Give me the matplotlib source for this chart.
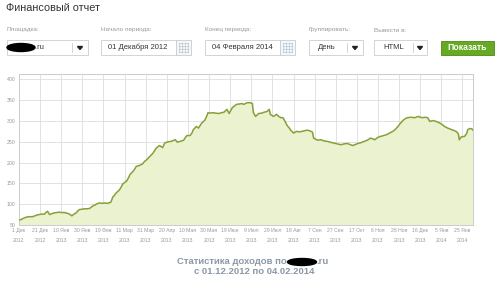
import numpy as np
import matplotlib
matplotlib.use('Agg')
import matplotlib.pyplot as plt
from matplotlib.patches import Rectangle, Ellipse, Polygon
import pandas as pd

plt.rcParams['font.family'] = ['Liberation Sans', 'DejaVu Sans']

# income per day (days counted from 1 Dec 2012)
days = [0, 2, 4, 7, 10, 13, 15, 17, 19, 21, 24, 25, 27, 29, 31, 33, 36, 38, 40, 43,
        46, 48, 50, 52, 54, 57, 60, 62, 65, 67, 70, 72, 73, 76, 79, 81, 84, 87, 89, 90,
        92, 95, 97, 98, 100, 102, 104, 105, 108, 110, 111, 114, 117, 119, 121, 124, 126, 127, 130, 133,
        135, 136, 138, 141, 144, 146, 148, 150, 151, 154, 156, 158, 159, 162, 164, 165, 168, 170, 173, 176,
        178, 179, 181, 183, 186, 189, 192, 194, 197, 199, 202, 204, 206, 209, 211, 213, 216, 219, 221, 222,
        224, 227, 230, 232, 235, 237, 238, 241, 244, 246, 248, 250, 252, 254, 256, 257, 260, 263, 266, 268,
        271, 273, 276, 278, 279, 281, 283, 286, 289, 292, 295, 298, 300, 303, 305, 308, 311, 314, 316, 318,
        321, 324, 327, 330, 333, 335, 337, 339, 341, 344, 348, 351, 354, 356, 359, 361, 364, 366, 368, 371,
        375, 378, 380, 382, 385, 387, 389, 392, 395, 397, 400, 403, 406, 410, 412, 414, 416, 417, 419, 422,
        424, 425, 427, 429, 430]
income = [62, 63, 66, 69, 70, 70, 72, 74, 75, 76, 76, 79, 83, 75, 77, 79, 80, 81, 80, 80,
          78, 76, 72, 76, 79, 87, 88, 89, 89, 90, 96, 98, 100, 103, 102, 103, 102, 105, 118, 120,
          127, 134, 142, 148, 152, 156, 165, 171, 179, 186, 191, 193, 197, 203, 207, 215, 220, 223, 235, 241,
          238, 236, 247, 250, 251, 253, 255, 249, 250, 252, 254, 262, 265, 265, 272, 279, 287, 283, 295, 302,
          313, 320, 319, 320, 319, 318, 320, 321, 328, 318, 332, 336, 340, 341, 342, 340, 344, 344, 342, 320,
          311, 318, 319, 321, 323, 328, 316, 311, 316, 311, 308, 308, 299, 289, 283, 279, 271, 275, 274, 275,
          277, 278, 276, 273, 259, 256, 254, 255, 252, 251, 249, 247, 246, 244, 243, 245, 246, 243, 241, 243,
          246, 248, 251, 254, 259, 257, 255, 259, 262, 264, 267, 271, 275, 279, 287, 294, 302, 306, 308, 309,
          308, 311, 309, 308, 309, 308, 299, 301, 299, 297, 293, 287, 283, 279, 277, 275, 270, 255, 262, 263,
          270, 279, 282, 281, 278]

start = pd.Timestamp('2012-12-01')
end = pd.Timestamp('2014-02-04')
dates = start + pd.to_timedelta(days, unit='D')
tick_dates = pd.date_range(start, '2014-01-25', freq='20D')
months = ['Янв', 'Фев', 'Мар', 'Апр', 'Мая', 'Июн', 'Июл', 'Авг', 'Сен', 'Окт', 'Ноя', 'Дек']
tick_labels = ['%d %s\n%d' % (d.day, months[d.month - 1], d.year) for d in tick_dates]
y_ticks = [50, 100, 150, 200, 250, 300, 350, 400]

W, H = 499, 281
fig = plt.figure(figsize=(W / 100, H / 100), dpi=100)
fig.patch.set_facecolor('white')

# chart
ax = fig.add_axes([19 / W, 1 - 225 / H, (473 - 19) / W, (225 - 74) / H])
ax.plot(dates, income, color='#86a03a', linewidth=1.1, zorder=3)
ax.fill_between(dates, income, 50, color='#ebf2d0', zorder=2)
ax.set_xlim(start, end)
ax.set_ylim(50, 413)
ax.set_yticks(y_ticks)
ax.set_xticks(tick_dates)
ax.set_xticklabels(tick_labels, linespacing=2.2)
ax.tick_params(axis='both', length=0, labelsize=3.7, colors='#999999', pad=2.5)
ax.grid(True, color='#dddddd', linewidth=0.6, zorder=1)
ax.set_axisbelow(True)
for s in ax.spines.values():
    s.set_color('#cccccc')
    s.set_linewidth(0.7)

# page elements drawn in pixel coordinates
ov = fig.add_axes([0, 0, 1, 1], zorder=-1)
ov.set_xlim(0, W)
ov.set_ylim(H, 0)
ov.axis('off')

ov.text(6, 8, 'Финансовый отчет', fontsize=7.8, color='#333333', va='center')

labels = [(7, 'Площадка:'), (101, 'Начало периода:'), (205, 'Конец периода:'),
          (309, 'Группировать:'), (374, 'Вывести в:')]
for x, t in labels:
    ov.text(x, 30, t, fontsize=4.6, color='#999999', va='center')


def box(x0, x1):
    ov.add_patch(Rectangle((x0, 40), x1 - x0, 15, facecolor='white', edgecolor='#cccccc', linewidth=0.6))


def dropdown(x0, x1, xdiv):
    box(x0, x1)
    ov.plot([xdiv, xdiv], [43, 52], color='#cccccc', linewidth=0.6)
    xc = (xdiv + x1) / 2
    ov.add_patch(Polygon([(xc - 2.5, 46.5), (xc + 2.5, 46.5), (xc, 49.5)], color='#222222'))


def calendar(x0):
    ov.add_patch(Rectangle((x0, 40), 15, 15, facecolor='#f4f6f8', edgecolor='#cccccc', linewidth=0.6))
    for k in range(4):
        ov.plot([x0 + 3, x0 + 12], [43 + 3 * k, 43 + 3 * k], color='#b8c8d8', linewidth=0.5)
        ov.plot([x0 + 3 + 3 * k, x0 + 3 + 3 * k], [43, 52], color='#b8c8d8', linewidth=0.5)


dropdown(7, 88, 72)
ov.add_patch(Ellipse((21, 47.5), 28, 8, color='black'))
ov.text(35, 47.5, '.ru', fontsize=5.5, color='#333333', va='center')

box(101, 176)
calendar(176)
ov.text(108, 47.5, '01 Декабря 2012', fontsize=5.5, color='#333333', va='center')

box(205, 280)
calendar(280)
ov.text(212, 47.5, '04 Февраля 2014', fontsize=5.5, color='#333333', va='center')

dropdown(309, 363, 347)
ov.text(318, 47.5, 'День', fontsize=5.5, color='#333333', va='center')

dropdown(374, 427, 413)
ov.text(383, 47.5, 'HTML', fontsize=5.5, color='#333333', va='center')

ov.add_patch(Rectangle((441, 40.5), 53, 14, facecolor='#66a922', edgecolor='#4e8a17', linewidth=0.6))
ov.text(467.5, 47.5, 'Показать', fontsize=6.2, color='white', fontweight='bold', ha='center', va='center')

# caption
cap = '#8b98a6'
ov.text(287, 262, 'Статистика доходов по', fontsize=6.8, color=cap, fontweight='bold', ha='right', va='center')
ov.add_patch(Ellipse((302, 262), 29, 7, color='black'))
ov.text(316, 262, '.ru', fontsize=6.8, color=cap, fontweight='bold', ha='left', va='center')
ov.text(254, 272, 'с 01.12.2012 по 04.02.2014', fontsize=6.8, color=cap, fontweight='bold', ha='center', va='center')

fig.savefig('out.png', dpi=100)
